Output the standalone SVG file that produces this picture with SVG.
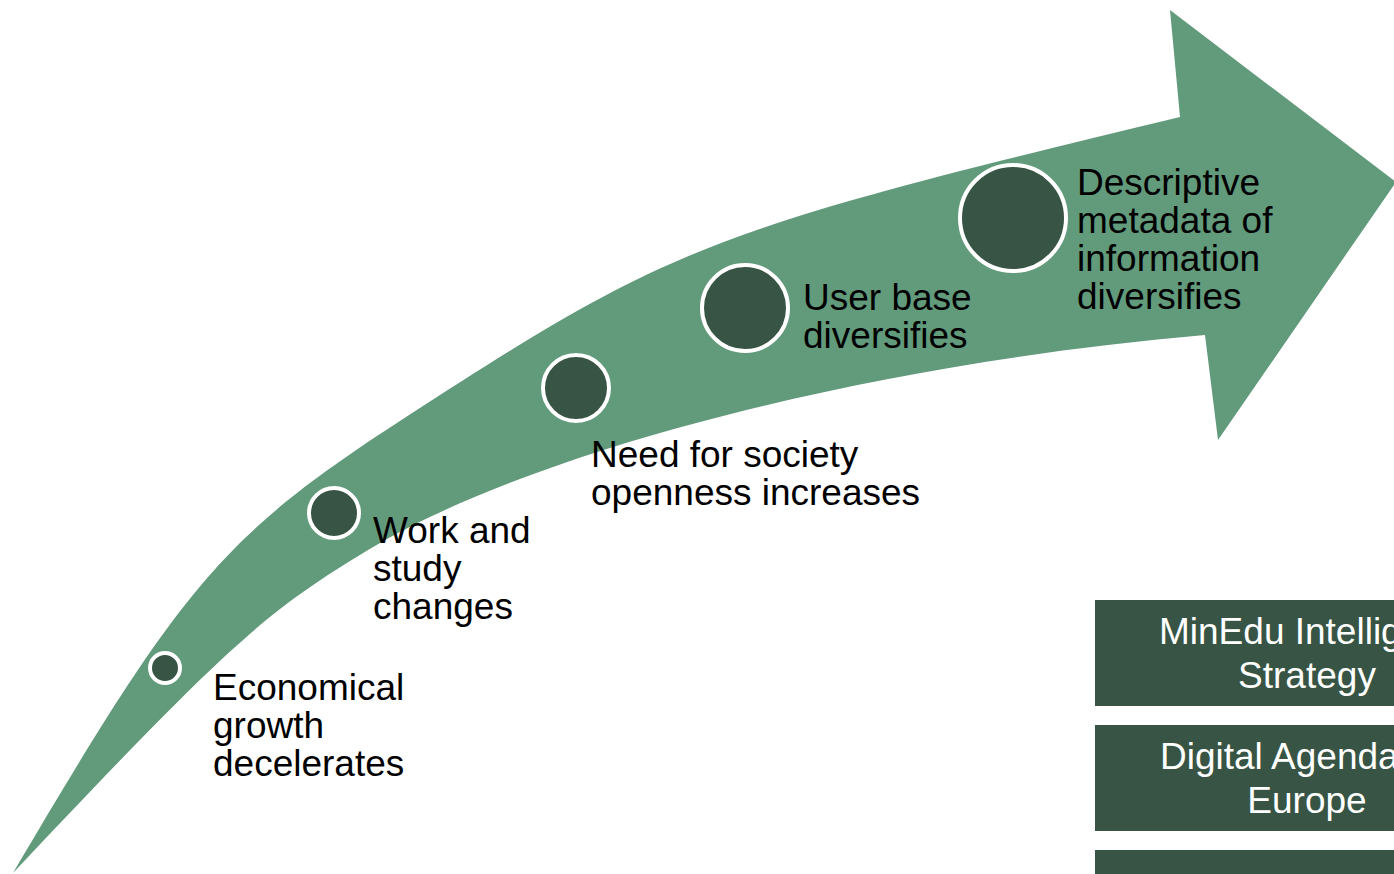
<svg xmlns="http://www.w3.org/2000/svg" width="1394" height="874" viewBox="0 0 1394 874">
  <style>
    .lbl { font-family: "Liberation Sans", Arial, sans-serif; font-size: 37px; fill: #000000; }
    .box { fill: #375444; }
    .btxt { font-family: "Liberation Sans", Arial, sans-serif; font-size: 37px; fill: #ffffff; }
    .dot { fill: #375444; stroke: #ffffff; stroke-width: 4; }
  </style>
  <rect x="0" y="0" width="1394" height="874" fill="#ffffff"/>
  <g id="arrow">
    <path fill="#629A7C" d="M 13,873 C 185,581 224,535 406,417 C 671,245 710,230 1180,117 L 1170,10 L 1396,182 L 1218,440 L 1205,335 C 869,364 534,450 368,550 C 264,613 228,645 13,873 Z"/>
  </g>
  <g id="node-economical">
    <circle class="dot" cx="165" cy="668" r="15"/>
    <text class="lbl" x="213" y="700">Economical</text>
    <text class="lbl" x="213" y="738">growth</text>
    <text class="lbl" x="213" y="776">decelerates</text>
  </g>
  <g id="node-work">
    <circle class="dot" cx="334" cy="513" r="25"/>
    <text class="lbl" x="373" y="543">Work and</text>
    <text class="lbl" x="373" y="581">study</text>
    <text class="lbl" x="373" y="619">changes</text>
  </g>
  <g id="node-need">
    <circle class="dot" cx="576" cy="388" r="33"/>
    <text class="lbl" x="591" y="467">Need for society</text>
    <text class="lbl" x="591" y="505">openness increases</text>
  </g>
  <g id="node-user">
    <circle class="dot" cx="745" cy="308" r="43"/>
    <text class="lbl" x="803" y="310">User base</text>
    <text class="lbl" x="803" y="348">diversifies</text>
  </g>
  <g id="node-descriptive">
    <circle class="dot" cx="1013" cy="218" r="53"/>
    <text class="lbl" x="1077" y="195">Descriptive</text>
    <text class="lbl" x="1077" y="233">metadata of</text>
    <text class="lbl" x="1077" y="271">information</text>
    <text class="lbl" x="1077" y="309">diversifies</text>
  </g>
  <g id="box-minedu">
    <rect class="box" x="1095" y="600" width="424" height="106"/>
    <text class="btxt" x="1159" y="644">MinEdu Intellig</text>
    <text class="btxt" x="1307" y="688" text-anchor="middle">Strategy</text>
  </g>
  <g id="box-digital">
    <rect class="box" x="1095" y="725" width="424" height="106"/>
    <text class="btxt" x="1160" y="769">Digital Agenda</text>
    <text class="btxt" x="1307" y="813" text-anchor="middle">Europe</text>
  </g>
  <g id="box-third">
    <rect class="box" x="1095" y="850" width="424" height="106"/>
  </g>
</svg>
